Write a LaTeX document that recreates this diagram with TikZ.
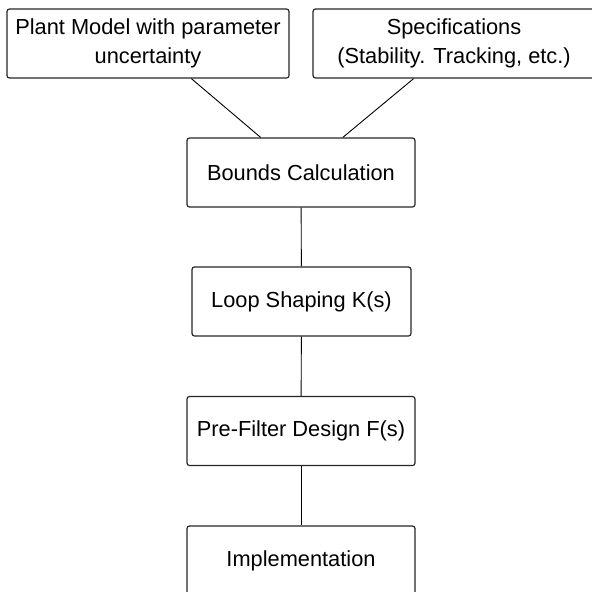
\documentclass[tikz,border=0pt]{standalone}
\usepackage{fontspec}
\setmainfont{Liberation Sans}
\begin{document}
\begin{tikzpicture}[x=1pt,y=-1pt,
	blk/.style={draw=black!85,line width=1.2pt,rounded corners=2.5pt,align=center,
		inner sep=0pt,minimum height=69pt,font=\fontsize{21.8}{28.5}\selectfont}]
	\useasboundingbox (0,0) rectangle (592,592);

	\node[blk,minimum width=282pt] (plant) at (148,43.5) {Plant Model with parameter\\uncertainty};
	\node[blk,minimum width=282pt] (specs) at (454,43.5) {Specifications\\(Stability. Tracking, etc.)};

	\node[blk,minimum width=228pt] (bounds) at (301,172.5) {Bounds Calculation};
	\node[blk,minimum width=219pt] (loop) at (301.5,301.5) {Loop Shaping K(s)};
	\node[blk,minimum width=228pt] (prefilter) at (301,431) {Pre-Filter Design F(s)};
	\node[blk,minimum width=228pt] (impl) at (301,560.5) {Implementation};

	\draw[line width=0.9pt] (plant.-39.4) -- (bounds.139.9);
	\draw[line width=0.9pt] (specs.-139.2) -- (bounds.40.1);
	\draw[line width=0.9pt] (bounds) -- (loop);
	\draw[line width=0.9pt] (loop) -- (prefilter);
	\draw[line width=0.9pt] (prefilter) -- (impl);
\end{tikzpicture}
\end{document}
